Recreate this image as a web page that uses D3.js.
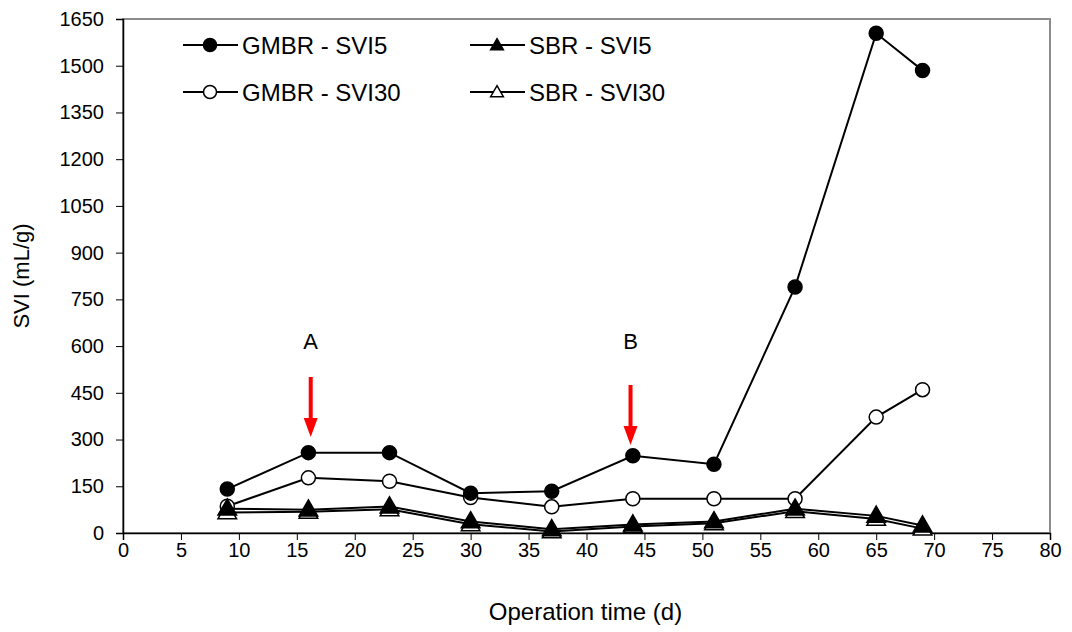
<!DOCTYPE html>
<html>
<head>
<meta charset="utf-8">
<script src="https://cdn.jsdelivr.net/npm/d3@7"></script>
<style>
  body { margin: 0; background: #fff; }
  svg { font-family: "Liberation Sans", Arial, sans-serif; }
</style>
</head>
<body>
<script>
const days = [9, 16, 23, 30, 37, 44, 51, 58, 65, 69];
const gmbrSvi5 = [141, 258, 258, 128, 134, 248, 221, 790, 1604, 1485];
const gmbrSvi30 = [86, 177, 166, 114, 84, 110, 110, 110, 372, 460];
const sbrSvi5 = [78, 75, 85, 37, 12, 27, 37, 78, 55, 24];
const sbrSvi30 = [66, 68, 76, 28, 5, 21, 31, 70, 45, 14];
const xTicks = d3.range(0, 81, 5);
const yTicks = d3.range(0, 1651, 150);
const arrows = [{ day: 16.2, label: "A", top: 377 }, { day: 43.8, label: "B", top: 385 }];

const width = 1072;
const height = 632;
const margin = { top: 19, right: 22, bottom: 99, left: 123 };

const svg = d3.select("body").append("svg")
  .attr("width", width)
  .attr("height", height);

const x = d3.scaleLinear().domain([0, 80]).range([margin.left, width - margin.right]);
const y = d3.scaleLinear().domain([0, 1650]).range([height - margin.bottom, margin.top]);

// plot frame (grey, Excel style)
svg.append("rect")
  .attr("x", x(0)).attr("y", y(1650))
  .attr("width", x(80) - x(0)).attr("height", y(0) - y(1650))
  .attr("fill", "none").attr("stroke", "#8c8c8c").attr("stroke-width", 2);

const xAxis = svg.append("g")
  .attr("transform", "translate(0," + y(0) + ")")
  .call(d3.axisBottom(x).tickValues(xTicks).tickSize(7).tickPadding(3));
const yAxis = svg.append("g")
  .attr("transform", "translate(" + x(0) + ",0)")
  .call(d3.axisLeft(y).tickValues(yTicks).tickFormat(d3.format("d")).tickSize(7).tickPadding(12));

[xAxis, yAxis].forEach((g) => {
  g.select(".domain").attr("stroke", "#000").attr("stroke-width", 1.5);
  g.selectAll(".tick line").attr("stroke", "#000");
  g.selectAll("text").attr("font-size", 20).attr("fill", "#000")
    .attr("font-family", "Liberation Sans, Arial, sans-serif");
});

svg.append("text")
  .attr("x", (x(0) + x(80)) / 2 - 1).attr("y", 620)
  .attr("text-anchor", "middle").attr("font-size", 24)
  .text("Operation time (d)");
svg.append("text")
  .attr("transform", "translate(29," + (y(0) + y(1650)) / 2 + ") rotate(-90)")
  .attr("text-anchor", "middle").attr("font-size", 22)
  .text("SVI (mL/g)");

const line = d3.line().x((d) => x(d[0])).y((d) => y(d[1]));
const triangle = d3.symbol().type(d3.symbolTriangle);

const series = [
  { name: "SBR - SVI30", values: sbrSvi30, shape: "tri", fill: "#fff" },
  { name: "GMBR - SVI30", values: gmbrSvi30, shape: "circle", fill: "#fff" },
  { name: "SBR - SVI5", values: sbrSvi5, shape: "tri", fill: "#000" },
  { name: "GMBR - SVI5", values: gmbrSvi5, shape: "circle", fill: "#000" }
];

function drawMarker(g, shape, fill, cx, cy, small) {
  if (shape === "circle") {
    g.append("circle").attr("cx", cx).attr("cy", cy).attr("r", small ? 6.5 : 7)
      .attr("fill", fill).attr("stroke", "#000").attr("stroke-width", 1.5);
  } else {
    g.append("path").attr("d", triangle.size(small ? 70 : 150)())
      .attr("transform", "translate(" + cx + "," + (cy + 1) + ")")
      .attr("fill", fill).attr("stroke", "#000").attr("stroke-width", 1.5);
  }
}

series.forEach((s) => {
  const pts = days.map((d, i) => [d, s.values[i]]);
  svg.append("path").datum(pts)
    .attr("d", line).attr("fill", "none")
    .attr("stroke", "#000").attr("stroke-width", 2);
});
series.forEach((s) => {
  const g = svg.append("g");
  days.forEach((d, i) => drawMarker(g, s.shape, s.fill, x(d), y(s.values[i]), false));
});

// legend
const legend = [
  { name: "GMBR - SVI5", shape: "circle", fill: "#000", lx: 183, ly: 45 },
  { name: "GMBR - SVI30", shape: "circle", fill: "#fff", lx: 183, ly: 92 },
  { name: "SBR - SVI5", shape: "tri", fill: "#000", lx: 470, ly: 45 },
  { name: "SBR - SVI30", shape: "tri", fill: "#fff", lx: 470, ly: 92 }
];
legend.forEach((l) => {
  const g = svg.append("g");
  g.append("line").attr("x1", l.lx).attr("x2", l.lx + 55)
    .attr("y1", l.ly).attr("y2", l.ly).attr("stroke", "#000").attr("stroke-width", 2);
  drawMarker(g, l.shape, l.fill, l.lx + 27, l.ly, true);
  g.append("text").attr("x", l.lx + 59).attr("y", l.ly + 8.5)
    .attr("font-size", 24).text(l.name);
});

// red arrows + labels
arrows.forEach((a) => {
  const ax = x(a.day);
  const tip = a.top + 60;
  svg.append("rect").attr("x", ax - 2).attr("y", a.top)
    .attr("width", 4).attr("height", 42).attr("fill", "#ff0000");
  svg.append("path")
    .attr("d", "M" + (ax - 7) + "," + (a.top + 41) + "L" + (ax + 7) + "," + (a.top + 41) + "L" + ax + "," + tip + "Z")
    .attr("fill", "#ff0000");
  svg.append("text").attr("x", ax).attr("y", 349)
    .attr("text-anchor", "middle").attr("font-size", 22).text(a.label);
});
</script>
</body>
</html>
